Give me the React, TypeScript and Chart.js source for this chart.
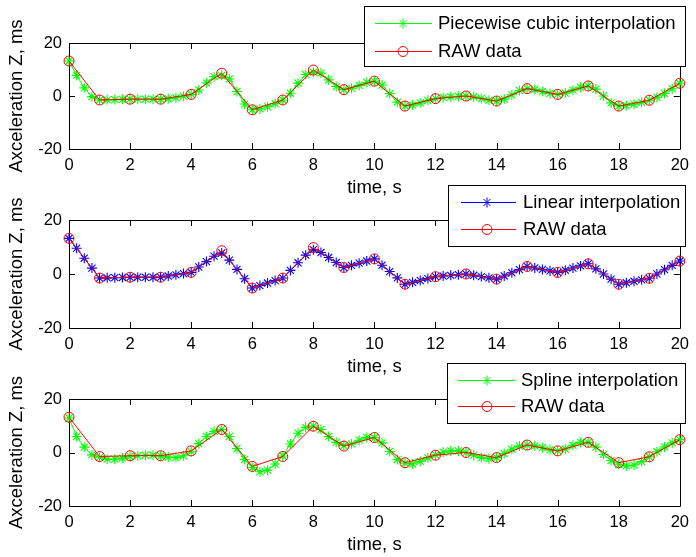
import React, { useEffect, useRef } from "react";
import { Chart, registerables } from "chart.js";
Chart.register(...registerables);

const rawTime = [0, 1, 2, 3, 4, 5, 6, 7, 8, 9, 10, 11, 12, 13, 14, 15, 16, 17, 18, 19, 20];
const rawAccel = [13.2, -1.5, -1.2, -1.2, 0.6, 8.6, -5.2, -1.5, 9.8, 2.4, 5.6, -3.8, -1.0, 0.0, -1.9, 2.8, 0.6, 3.8, -3.8, -1.6, 4.8];

const fineTime = Array.from({ length: 81 }, (_, i) => i / 4);

const pchipAccel = [
  13.2, 7.78, 3.08, -0.24,
  -1.5, -1.45, -1.35, -1.25,
  -1.2, -1.2, -1.2, -1.2,
  -1.2, -1.06, -0.67, -0.1,
  0.6, 2.26, 4.97, 7.3,
  7.8, 6.44, 1.7, -3.04,
  -5.2, -4.88, -4.05, -2.86,
  -1.5, 1.05, 4.85, 8.1,
  9.0, 8.64, 6.1, 3.56,
  2.4, 2.9, 4.0, 5.1,
  5.6, 4.13, 0.9, -2.33,
  -3.8, -3.43, -2.58, -1.65,
  -1.0, -0.64, -0.32, -0.09,
  0.0, -0.3, -0.95, -1.6,
  -1.9, -1.17, 0.45, 2.07,
  2.8, 2.46, 1.7, 0.94,
  0.6, 1.1, 2.2, 3.3,
  3.8, 2.61, 0.0, -2.61,
  -3.8, -3.61, -3.11, -2.4,
  -1.6, -0.54, 0.95, 2.76,
  4.8,
];

const linearAccel = [
  13.2, 9.53, 5.85, 2.18,
  -1.5, -1.43, -1.35, -1.28,
  -1.2, -1.2, -1.2, -1.2,
  -1.2, -0.75, -0.3, 0.15,
  0.6, 2.6, 4.6, 6.6,
  7.8, 5.15, 1.7, -1.75,
  -5.2, -4.28, -3.35, -2.43,
  -1.5, 1.33, 4.15, 6.98,
  9.0, 7.95, 6.1, 4.25,
  2.4, 3.2, 4.0, 4.8,
  5.6, 3.25, 0.9, -1.45,
  -3.8, -3.1, -2.4, -1.7,
  -1.0, -0.75, -0.5, -0.25,
  0.0, -0.48, -0.95, -1.43,
  -1.9, -0.73, 0.45, 1.63,
  2.8, 2.25, 1.7, 1.15,
  0.6, 1.4, 2.2, 3.0,
  3.8, 1.9, 0.0, -1.9,
  -3.8, -3.25, -2.7, -2.15,
  -1.6, 0.0, 1.6, 3.2,
  4.8,
];

const splineAccel = [
  12.9, 6.0, 2.0, -0.9,
  -1.8, -2.5, -2.5, -2.1,
  -1.5, -1.2, -1.0, -1.0,
  -1.3, -1.7, -1.9, -1.2,
  0.3, 3.3, 6.0, 7.9,
  8.6, 6.0, 1.5, -2.6,
  -5.6, -7.2, -6.6, -4.3,
  -1.3, 3.2, 7.2, 9.4,
  9.9, 8.6, 6.0, 3.8,
  2.6, 3.2, 4.6, 5.6,
  5.5, 3.6, 0.4, -2.6,
  -4.0, -4.3, -3.3, -2.0,
  -0.9, 0.1, 0.6, 0.6,
  0.0, -1.0, -1.9, -2.3,
  -1.9, -0.4, 1.2, 2.4,
  2.8, 2.5, 1.8, 1.0,
  0.6, 1.3, 2.7, 3.8,
  3.8, 2.0, -0.7, -3.0,
  -4.4, -5.0, -4.7, -3.4,
  -1.6, 0.3, 2.1, 3.6,
  4.8,
];

const xTickValues = [0, 2, 4, 6, 8, 10, 12, 14, 16, 18, 20];
const yTickValues = [-20, 0, 20];

const interpLabels = ["Piecewise cubic interpolation", "Linear interpolation", "Spline interpolation"];
const interpColors = ["#00ff00", "#0000ff", "#00ff00"];
const interpSeries = [pchipAccel, linearAccel, splineAccel];
const rawLabel = "RAW data";
const xTitle = "time, s";
const yTitle = "Axceleration Z, ms";

const W = 696;
const H = 557;
const FONT = "'Liberation Sans', Arial, Helvetica, sans-serif";

type Panel = {
  top: number;
  bottom: number;
  legend: { x: number; y: number; w: number; h: number; rowY: number[]; lx1: number; lx2: number; mx: number; tx: number };
};

const panels: Panel[] = [
  { top: 43, bottom: 149, legend: { x: 364, y: 6, w: 321, h: 60, rowY: [23, 51], lx1: 375, lx2: 432, mx: 403, tx: 438 } },
  { top: 220, bottom: 328, legend: { x: 448, y: 185, w: 237, h: 61, rowY: [202, 229], lx1: 461, lx2: 516, mx: 487, tx: 523 } },
  { top: 399, bottom: 506, legend: { x: 447, y: 363, w: 238, h: 60, rowY: [380, 406], lx1: 458, lx2: 515, mx: 487, tx: 521 } },
];

function drawStar(ctx: CanvasRenderingContext2D, x: number, y: number, r: number) {
  ctx.beginPath();
  ctx.moveTo(x - r, y); ctx.lineTo(x + r, y);
  ctx.moveTo(x, y - r); ctx.lineTo(x, y + r);
  const d = r * Math.SQRT1_2;
  ctx.moveTo(x - d, y - d); ctx.lineTo(x + d, y + d);
  ctx.moveTo(x - d, y + d); ctx.lineTo(x + d, y - d);
  ctx.stroke();
}

function SubPlot({ index }: { index: number }) {
  const ref = useRef<HTMLCanvasElement | null>(null);
  useEffect(() => {
    if (!ref.current) return;
    const p = panels[index];
    const color = interpColors[index];
    const label = interpLabels[index];
    const series = interpSeries[index];

    const boxPlugin = {
      id: "box" + index,
      beforeDatasetsDraw(chart: any) {
        const { ctx, chartArea } = chart;
        const { left, right, top, bottom } = chartArea;
        const xs = chart.scales.x;
        const ys = chart.scales.y;
        ctx.save();
        ctx.strokeStyle = "#000";
        ctx.lineWidth = 1;
        ctx.beginPath();
        ctx.rect(Math.round(left) + 0.5, Math.round(top) + 0.5, Math.round(right - left), Math.round(bottom - top));
        ctx.stroke();
        const tl = 6;
        ctx.beginPath();
        for (const v of xTickValues) {
          const px = Math.round(xs.getPixelForValue(v)) + 0.5;
          ctx.moveTo(px, bottom); ctx.lineTo(px, bottom - tl);
          ctx.moveTo(px, top); ctx.lineTo(px, top + tl);
        }
        for (const v of yTickValues) {
          const py = Math.round(ys.getPixelForValue(v)) + 0.5;
          ctx.moveTo(left, py); ctx.lineTo(left + tl, py);
          ctx.moveTo(right, py); ctx.lineTo(right - tl, py);
        }
        ctx.stroke();
        ctx.restore();
      },
      afterDraw(chart: any) {
        const { ctx } = chart;
        const L = p.legend;
        ctx.save();
        ctx.fillStyle = "#fff";
        ctx.fillRect(L.x, L.y, L.w, L.h);
        ctx.strokeStyle = "#000";
        ctx.lineWidth = 1;
        ctx.strokeRect(L.x + 0.5, L.y + 0.5, L.w, L.h);
        ctx.strokeStyle = color;
        ctx.beginPath();
        ctx.moveTo(L.lx1, L.rowY[0] + 0.5); ctx.lineTo(L.lx2, L.rowY[0] + 0.5);
        ctx.stroke();
        drawStar(ctx, L.mx, L.rowY[0] + 0.5, 5);
        ctx.strokeStyle = "#ff0000";
        ctx.beginPath();
        ctx.moveTo(L.lx1, L.rowY[1] + 0.5); ctx.lineTo(L.lx2, L.rowY[1] + 0.5);
        ctx.stroke();
        ctx.beginPath();
        ctx.arc(L.mx, L.rowY[1] + 0.5, 5, 0, Math.PI * 2);
        ctx.stroke();
        ctx.fillStyle = "#000";
        ctx.font = `18.5px ${FONT}`;
        ctx.textBaseline = "middle";
        ctx.textAlign = "left";
        ctx.fillText(label, L.tx, L.rowY[0] + 1);
        ctx.fillText(rawLabel, L.tx, L.rowY[1] + 1);
        ctx.restore();
      },
    };

    const chart = new Chart(ref.current, {
      type: "line",
      data: {
        datasets: [
          {
            label: rawLabel,
            data: rawTime.map((x, i) => ({ x, y: rawAccel[i] })),
            borderColor: "#ff0000",
            borderWidth: 1,
            pointStyle: "circle",
            pointRadius: 5,
            pointBorderColor: "#ff0000",
            pointBackgroundColor: "rgba(0,0,0,0)",
            pointBorderWidth: 1,
            tension: 0,
            fill: false,
            clip: false,
          } as any,
          {
            label,
            data: fineTime.map((x, i) => ({ x, y: series[i] })),
            borderColor: color,
            borderWidth: 1,
            pointStyle: "star",
            pointRadius: 5,
            pointBorderColor: color,
            pointBackgroundColor: color,
            pointBorderWidth: 1.1,
            tension: 0,
            fill: false,
            clip: false,
          } as any,
        ],
      },
      options: {
        responsive: false,
        animation: false,
        devicePixelRatio: 1,
        layout: { padding: { left: 0, right: 11, top: p.top, bottom: H - p.bottom - 50 } },
        plugins: { legend: { display: false }, tooltip: { enabled: false } },
        scales: {
          x: {
            type: "linear",
            min: 0,
            max: 20,
            afterBuildTicks: (s: any) => { s.ticks = xTickValues.map((v) => ({ value: v })); },
            afterFit: (s: any) => { s.height = 50; },
            grid: { display: false, drawTicks: false },
            border: { display: false },
            ticks: { padding: 7, color: "#000", font: { family: FONT, size: 16.5 }, maxRotation: 0, autoSkip: false },
            title: { display: true, text: xTitle, color: "#000", font: { family: FONT, size: 18.5 }, padding: 0 },
          },
          y: {
            type: "linear",
            min: -20,
            max: 20,
            afterBuildTicks: (s: any) => { s.ticks = yTickValues.map((v) => ({ value: v })); },
            afterFit: (s: any) => { s.width = 69; },
            grid: { display: false, drawTicks: false },
            border: { display: false },
            ticks: { padding: 7, color: "#000", font: { family: FONT, size: 16.5 } },
            title: { display: true, text: yTitle, color: "#000", font: { family: FONT, size: 18.5 }, padding: { top: 6, bottom: 0 } },
          },
        },
      } as any,
      plugins: [boxPlugin],
    });
    return () => chart.destroy();
  }, [index]);
  return (
    <canvas
      ref={ref}
      width={W}
      height={H}
      style={{ position: "absolute", left: 0, top: 0, width: W, height: H }}
    />
  );
}

export default function App() {
  return (
    <div style={{ position: "absolute", left: 0, top: 0, width: W, height: H, background: "#fff", overflow: "hidden" }}>
      <SubPlot index={0} />
      <SubPlot index={1} />
      <SubPlot index={2} />
    </div>
  );
}
